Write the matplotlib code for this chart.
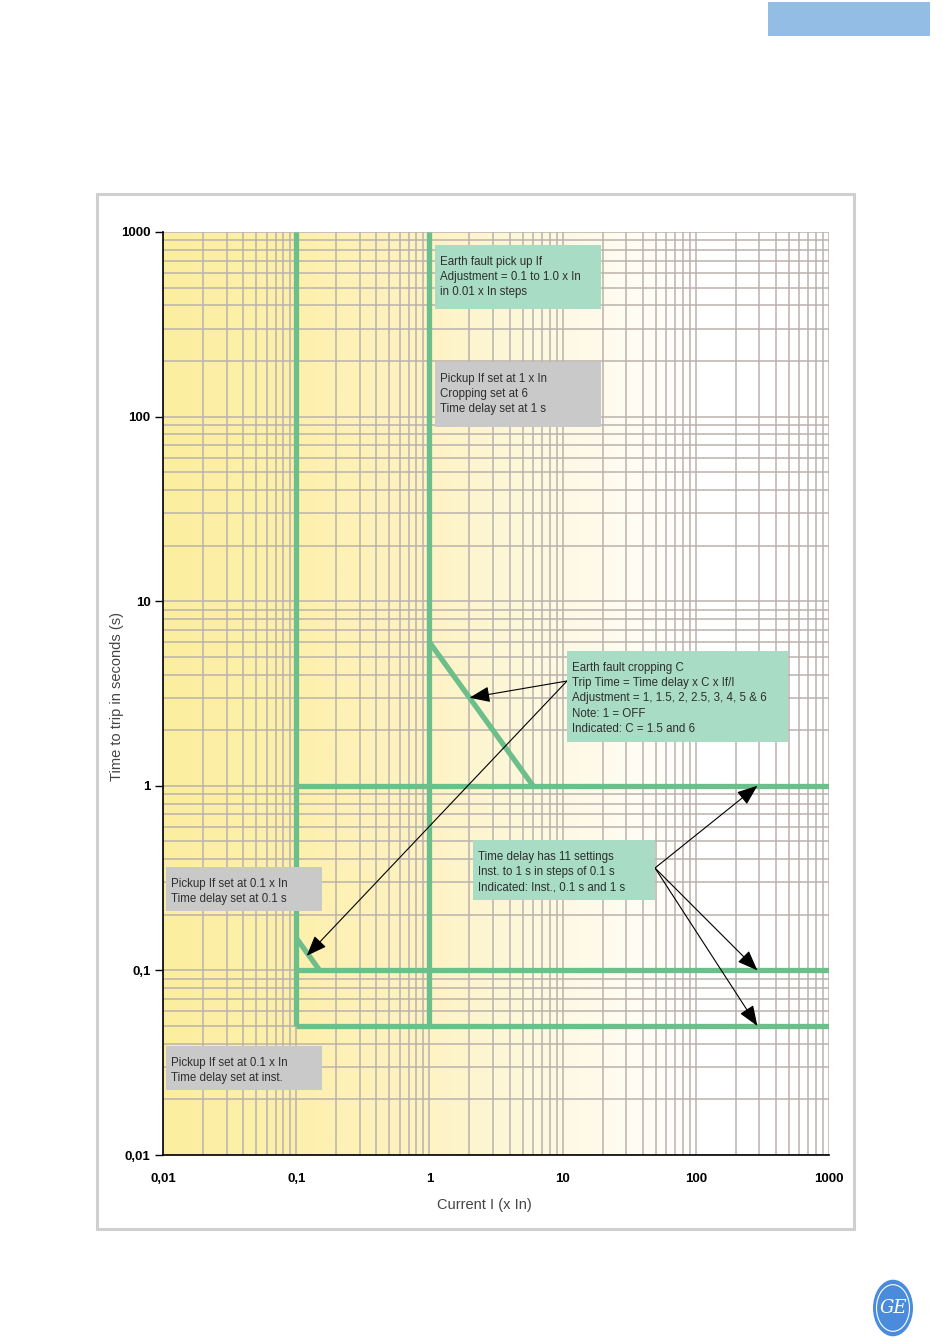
import matplotlib
matplotlib.use("Agg")
import matplotlib.pyplot as plt
import numpy as np
from matplotlib.patches import Rectangle, Circle
from matplotlib.colors import LinearSegmentedColormap
from matplotlib.ticker import LogLocator, NullFormatter

# ---- data ----
x_ticks = [0.01, 0.1, 1, 10, 100, 1000]
x_labels = ["0,01", "0,1", "1", "10", "100", "1000"]
y_ticks = [0.01, 0.1, 1, 10, 100, 1000]
y_labels = ["0,01", "0,1", "1", "10", "100", "1000"]

pickups = [0.1, 1.0]            # earth fault pick up If (x In)
delays = [1.0, 0.1, 0.05]       # time delay settings shown (1 s, 0.1 s, inst.)
i_max = 1000.0
t_max = 1000.0
# cropping curves: (pickup If, C, time delay)  trip time = delay * C * If / I
crop_curves = [(1.0, 6.0, 1.0), (0.1, 1.5, 0.1)]

notes = [
    ("Earth fault pick up If\nAdjustment = 0.1 to 1.0 x In\nin 0.01 x In steps",
     "green", (435, 245, 601, 309)),
    ("Pickup If set at 1 x In\nCropping set at 6\nTime delay set at 1 s",
     "grey", (435, 362, 601, 427)),
    ("Earth fault cropping C\nTrip Time = Time delay x C x If/I\n"
     "Adjustment = 1, 1.5, 2, 2.5, 3, 4, 5 & 6\nNote: 1 = OFF\nIndicated: C = 1.5 and 6",
     "green", (567, 651, 788, 742)),
    ("Pickup If set at 0.1 x In\nTime delay set at 0.1 s",
     "grey", (166, 867, 322, 911)),
    ("Time delay has 11 settings\nInst. to 1 s in steps of 0.1 s\nIndicated: Inst., 0.1 s and 1 s",
     "green", (473, 840, 655, 900)),
    ("Pickup If set at 0.1 x In\nTime delay set at inst.",
     "grey", (166, 1046, 322, 1090)),
]

# arrows: (start pixel on box, target in data coords)
arrows = [
    ((567, 681), (2.0, 3.0)),
    ((567, 681), (0.12, 0.12)),
    ((655, 868), (290, 1.0)),
    ((655, 868), (290, 0.1)),
    ((655, 868), (290, 0.05)),
]

W, H = 950, 1344
GREEN = "#6cbe8b"
BOX = {"green": "#a9dcc5", "grey": "#c9c9c9"}
GRID = "#bab2ad"

plt.rcParams["font.family"] = ["Liberation Sans", "DejaVu Sans"]


def px(x, y):
    return x / W, 1 - y / H


fig = plt.figure(figsize=(W / 100, H / 100), dpi=100)
fig.patch.set_facecolor("white")

ax_l, ax_b = px(163, 1155)
ax_r, ax_t = px(829, 232)
rect = [ax_l, ax_b, ax_r - ax_l, ax_t - ax_b]

# background gradient yellow -> white
bg = fig.add_axes(rect, zorder=0)
cmap = LinearSegmentedColormap.from_list("bg", [
    (0.0, "#fcee9f"), (0.2, "#fdf0ad"), (0.4, "#fdf3c4"),
    (0.55, "#fef8dd"), (0.7, "#fffcf2"), (0.8, "#ffffff"), (1.0, "#ffffff")])
bg.imshow(np.linspace(0, 1, 500).reshape(1, -1), cmap=cmap, aspect="auto",
          extent=[0, 1, 0, 1])
bg.set_axis_off()

ax = fig.add_axes(rect, zorder=1)
ax.patch.set_alpha(0)
ax.set_xscale("log")
ax.set_yscale("log")
ax.set_xlim(0.01, i_max)
ax.set_ylim(0.01, t_max)

ax.xaxis.set_minor_locator(LogLocator(base=10, subs=np.arange(2, 10)))
ax.yaxis.set_minor_locator(LogLocator(base=10, subs=np.arange(2, 10)))
ax.xaxis.set_minor_formatter(NullFormatter())
ax.yaxis.set_minor_formatter(NullFormatter())
ax.grid(True, which="both", color=GRID, lw=1.1, zorder=0)
ax.set_axisbelow(True)

ax.set_xticks(x_ticks)
ax.set_xticklabels(x_labels, fontweight="bold", fontsize=9.5)
ax.set_yticks(y_ticks)
ax.set_yticklabels(y_labels, fontweight="bold", fontsize=9.5)
ax.tick_params(axis="x", which="both", length=0, pad=13)
ax.tick_params(axis="y", which="major", length=6, width=1, pad=3)
ax.tick_params(axis="y", which="minor", length=0)
for s in ["top", "right"]:
    ax.spines[s].set_visible(False)
for s in ["left", "bottom"]:
    ax.spines[s].set_color("black")
    ax.spines[s].set_linewidth(1.2)

ax.set_xlabel("Current I (x In)", fontsize=10.5, color="#444444")
ax.set_ylabel("Time to trip in seconds (s)", fontsize=10.5, color="#444444")
ax.xaxis.set_label_coords(0.482, -0.047)
ax.yaxis.set_label_coords(-0.058, 0.497)

# characteristic lines
lw = 3.8
t_inst = min(delays)
for p in pickups:
    ax.plot([p, p], [t_inst, t_max], color=GREEN, lw=lw, solid_capstyle="butt", zorder=3)
for d in delays:
    ax.plot([min(pickups), i_max], [d, d], color=GREEN, lw=lw, solid_capstyle="butt", zorder=3)
for p, c, d in crop_curves:
    i = np.logspace(np.log10(p), np.log10(p * c), 20)
    ax.plot(i, d * c * p / i, color=GREEN, lw=lw, solid_capstyle="butt", zorder=3)

# note boxes
for text, kind, (x0, y0, x1, y1) in notes:
    fx0, fy1 = px(x0, y1)
    fx1, fy0 = px(x1, y0)
    fig.add_artist(Rectangle((fx0, fy1), fx1 - fx0, fy0 - fy1, transform=fig.transFigure,
                             facecolor=BOX[kind], edgecolor="none", zorder=4))
    tx, ty = px(x0 + 5, y0 + 11)
    fig.text(tx, ty, text, fontsize=8.3, color="#2e2e2e", va="top", ha="left",
             linespacing=1.36, zorder=5)

# arrows
for (sx, sy), target in arrows:
    ax.annotate("", xy=target, xycoords="data", xytext=px(sx, sy),
                textcoords="figure fraction",
                arrowprops=dict(arrowstyle="-|>,head_length=0.9,head_width=0.35",
                                color="black", lw=0.8, shrinkA=0, shrinkB=0,
                                mutation_scale=14),
                annotation_clip=False, zorder=6)

# outer frame
bx0, by1 = px(97, 1229)
bx1, by0 = px(854, 194)
fig.add_artist(Rectangle((bx0, by1), bx1 - bx0, by0 - by1, transform=fig.transFigure,
                         facecolor="none", edgecolor="#cfcfcf", lw=2.2, zorder=0))

# page decoration: header tab and logo
hx0, hy1 = px(768, 36)
hx1, hy0 = px(930, 2)
fig.add_artist(Rectangle((hx0, hy1), hx1 - hx0, hy0 - hy1, transform=fig.transFigure,
                         facecolor="#94bde6", edgecolor="none"))
lx, ly = px(893, 1308)
fig.add_artist(Circle((lx, ly), 20 / W, transform=fig.transFigure,
                      facecolor="#4a8cdb", edgecolor="none"))
fig.add_artist(Circle((lx, ly), 16.5 / W, transform=fig.transFigure,
                      facecolor="none", edgecolor="white", lw=0.8))
fig.text(lx, ly, "GE", fontsize=13, color="white", ha="center", va="center",
         fontstyle="italic", family="DejaVu Serif")

fig.savefig("out.png", dpi=100)
